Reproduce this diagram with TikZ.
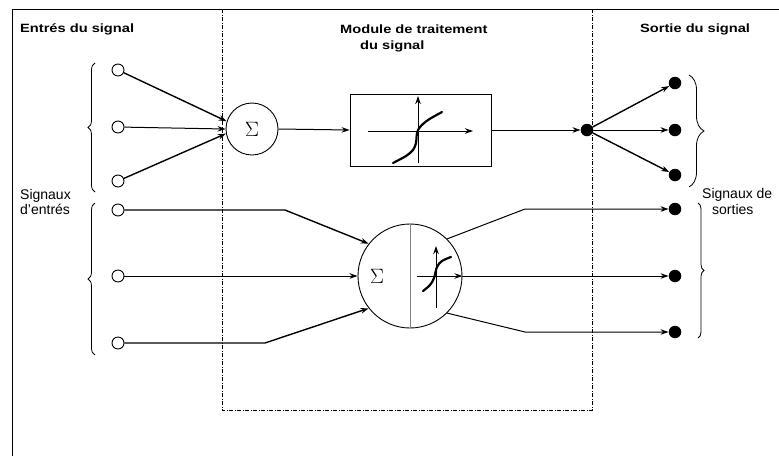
\documentclass[tikz,border=0pt]{standalone}
\usepackage{fontspec}
\setmainfont{Liberation Sans}
\newfontfamily\hdrfont[FakeStretch=1.22]{Liberation Sans}
\usetikzlibrary{arrows.meta,decorations.pathreplacing}
\begin{document}
\begin{tikzpicture}[x=1pt,y=-1pt,
  inp/.style={circle,draw,line width=0.9pt,minimum size=12pt,inner sep=0pt},
  outp/.style={circle,fill,minimum size=12.5pt,inner sep=0pt},
  conn/.style={line width=1pt},
  arr/.style={conn,-{Stealth[length=8pt,width=5.5pt]}},
  thickarr/.style={line width=1.4pt,-{Stealth[length=8pt,width=5.5pt]}},
  sumnode/.style={circle,draw,line width=0.9pt,inner sep=0pt},
  hdr/.style={font=\hdrfont\bfseries\fontsize{12}{14}\selectfont,inner sep=0pt},
  lbl/.style={font=\fontsize{14}{16}\selectfont,inner sep=0pt},
  bracestyle/.style={line width=0.8pt,decorate},
  curve/.style={line width=2.2pt,line cap=round},
  boxdash/.style={line width=0.9pt,dash pattern=on 4pt off 1.5pt on 1pt off 1.5pt}
]
\useasboundingbox (0,0) rectangle (779,456);
% frames
\draw[line width=0.9pt] (12,456) -- (12,9) -- (779,9);
\draw[boxdash] (222,9) rectangle (592,410);
% headings
\node[hdr,anchor=base west] (t1) at (20,32.5) {Entrés du signal};
\node[hdr,anchor=base west] (t2) at (340,33) {Module de traitement};
\node[hdr,anchor=base west] (t3) at (360,49) {du signal};
\node[hdr,anchor=base west] (t4) at (640,32) {Sortie du signal};
\node[lbl,anchor=base west] (t5) at (20,199) {Signaux};
\node[lbl,anchor=base west] (t6) at (20,214) {d'entrés};
\node[lbl,anchor=base west] (t7) at (702,198) {Signaux de};
\node[lbl,anchor=base west] (t8) at (712,214) {sorties};
% braces
\draw[bracestyle,decoration={brace,amplitude=7pt}] (95,192) -- (95,63);
\draw[bracestyle,decoration={brace,amplitude=7pt}] (95,355) -- (95,203);
\draw[bracestyle,decoration={brace,amplitude=15pt}] (689,75) -- (689,187);
\draw[bracestyle,decoration={brace,amplitude=6pt}] (698,203) -- (698,338);
% ---------- top part ----------
\node[inp] (i1) at (118,70) {};
\node[inp] (i2) at (118,127) {};
\node[inp] (i3) at (118,181) {};
\node[sumnode,minimum size=52pt] (s1) at (252,129) {\fontsize{21}{24}\selectfont$\Sigma$};
\node[draw,line width=0.9pt,minimum width=141pt,minimum height=72pt,inner sep=0pt] (box) at (420.5,130) {};
\node[outp] (hub) at (587,130) {};
\node[outp] (o1) at (675,83) {};
\node[outp] (o2) at (675,130) {};
\node[outp] (o3) at (675,175) {};
\draw[thickarr] (i1) -- (s1.163);
\draw[arr] (i2) -- (s1.180);
\draw[thickarr] (i3) -- (s1.190);
\draw[arr] (s1.east) -- (box.west);
\draw[arr] (box.east) -- (hub);
\draw[thickarr] (hub) -- (o1);
\draw[arr] (hub) -- (o2);
\draw[thickarr] (hub) -- (o3);
% axes in box
\coordinate (bx1) at (368,131);
\coordinate (bx2) at (473,131);
\coordinate (by1) at (418,163);
\coordinate (by2) at (418,96);
\draw[arr] (bx1) -- (bx2);
\draw[arr] (by1) -- (by2);
\draw[curve] plot[smooth,tension=0.5] coordinates {(393,163) (406,156) (413,150) (416,143) (417,133) (420,127) (428,120) (442,112)};
% ---------- bottom part ----------
\node[inp] (j1) at (118,210) {};
\node[inp] (j2) at (118,276) {};
\node[inp] (j3) at (118,343) {};
\node[sumnode,minimum size=104pt] (big) at (410,276) {};
\draw[gray,line width=1pt] (big.north) -- (big.south);
\node (sg) at (377,276) {\fontsize{21}{24}\selectfont$\Sigma$};
\node[outp] (q1) at (675,209) {};
\node[outp] (q2) at (675,276) {};
\node[outp] (q3) at (675,332) {};
\coordinate (b1) at (285,210);
\coordinate (b3) at (265,343);
\coordinate (c1) at (525,209);
\coordinate (c3) at (525,332);
\draw[thickarr] (j1) -- (b1) -- (big.142);
\draw[arr] (j2) -- (big.west);
\draw[thickarr] (j3) -- (b3) -- (big.218);
\draw[arr] (big.45) -- (c1) -- (q1);
\draw[arr] (big.east) -- (q2);
\draw[arr] (big.-45) -- (c3) -- (q3);
% axes in big circle
\coordinate (gx1) at (417,276);
\coordinate (gy1) at (436,308);
\coordinate (gy2) at (436,246);
\draw[arr] (gx1) -- (big.east);
\draw[arr] (gy1) -- (gy2);
\draw[curve] plot[smooth,tension=0.6] coordinates {(423,291) (430,285) (434,278) (437,267) (442,261) (451,257)};
\end{tikzpicture}
\end{document}
